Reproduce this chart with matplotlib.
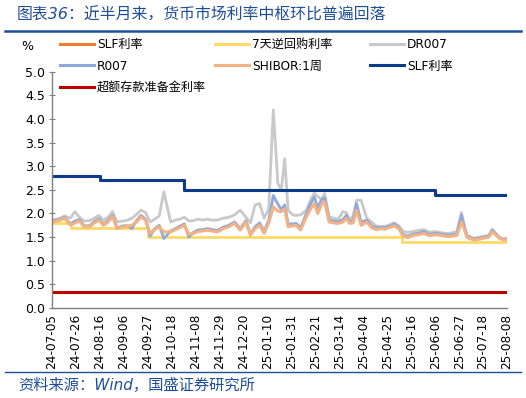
import numpy as np
import pandas as pd
import matplotlib
matplotlib.use("Agg")
from matplotlib import pyplot as plt
import matplotlib.dates as mdates
from matplotlib.lines import Line2D

plt.rcParams['font.family'] = ['DejaVu Sans', 'Noto Sans CJK SC']

# dates partagées par DR007 / R007 / SHIBOR 1W
dates = ['2024-07-05', '2024-07-09', '2024-07-12', '2024-07-16', '2024-07-21', '2024-07-25',
         '2024-07-29', '2024-08-02', '2024-08-07', '2024-08-11', '2024-08-15', '2024-08-19',
         '2024-08-23', '2024-08-27', '2024-08-31', '2024-09-05', '2024-09-09', '2024-09-13',
         '2024-09-17', '2024-09-21', '2024-09-25', '2024-09-29', '2024-10-03', '2024-10-07',
         '2024-10-11', '2024-10-17', '2024-10-21', '2024-10-25', '2024-10-29', '2024-11-02',
         '2024-11-06', '2024-11-10', '2024-11-14', '2024-11-18', '2024-11-22', '2024-11-27',
         '2024-12-02', '2024-12-07', '2024-12-12', '2024-12-17', '2024-12-22', '2024-12-26',
         '2024-12-30', '2025-01-03', '2025-01-07', '2025-01-11', '2025-01-15', '2025-01-19',
         '2025-01-22', '2025-01-25', '2025-01-28', '2025-02-01', '2025-02-04', '2025-02-08',
         '2025-02-13', '2025-02-17', '2025-02-20', '2025-02-23', '2025-02-26', '2025-03-01',
         '2025-03-05', '2025-03-09', '2025-03-13', '2025-03-17', '2025-03-20', '2025-03-23',
         '2025-03-26', '2025-03-29', '2025-04-02', '2025-04-07', '2025-04-11', '2025-04-15',
         '2025-04-19', '2025-04-23', '2025-04-27', '2025-05-01', '2025-05-05', '2025-05-09',
         '2025-05-13', '2025-05-18', '2025-05-22', '2025-05-27', '2025-06-01', '2025-06-06',
         '2025-06-10', '2025-06-15', '2025-06-19', '2025-06-25', '2025-06-29', '2025-07-01',
         '2025-07-04', '2025-07-10', '2025-07-15', '2025-07-19', '2025-07-23', '2025-07-26',
         '2025-07-29', '2025-08-01', '2025-08-05', '2025-08-08']

dr007 = [1.86, 1.88, 1.90, 1.95, 1.90, 2.04, 1.92, 1.84, 1.85, 1.90, 1.96, 1.86,
         1.92, 2.04, 1.82, 1.84, 1.86, 1.90, 1.98, 2.07, 2.02, 1.82, 1.88, 1.95,
         2.46, 1.82, 1.86, 1.88, 1.92, 1.84, 1.85, 1.88, 1.86, 1.88, 1.86, 1.86,
         1.90, 1.92, 1.97, 2.07, 1.92, 1.80, 2.18, 2.21, 1.90, 2.10, 4.19, 2.64,
         2.49, 3.16, 2.07, 1.97, 1.96, 1.97, 2.07, 2.30, 2.43, 2.36, 2.30, 2.42,
         1.93, 1.90, 1.88, 2.04, 2.02, 1.86, 1.95, 2.28, 2.28, 1.90, 1.82, 1.74,
         1.72, 1.73, 1.76, 1.80, 1.74, 1.62, 1.60, 1.62, 1.64, 1.66, 1.60, 1.62,
         1.60, 1.58, 1.58, 1.62, 2.02, 1.80, 1.54, 1.48, 1.50, 1.52, 1.54, 1.67,
         1.58, 1.50, 1.46, 1.48]

r007 = [1.84, 1.86, 1.88, 1.92, 1.78, 1.84, 1.87, 1.74, 1.74, 1.83, 1.89, 1.77,
        1.85, 1.96, 1.69, 1.74, 1.74, 1.68, 1.85, 1.96, 1.88, 1.52, 1.68, 1.75,
        1.47, 1.63, 1.68, 1.73, 1.78, 1.50, 1.60, 1.65, 1.66, 1.68, 1.66, 1.64,
        1.71, 1.75, 1.82, 1.68, 1.85, 1.56, 1.72, 1.80, 1.62, 1.86, 2.38, 2.20,
        2.08, 2.18, 1.78, 1.78, 1.79, 1.70, 2.00, 2.22, 2.35, 2.12, 2.28, 2.33,
        1.86, 1.84, 1.83, 1.87, 1.96, 1.83, 1.85, 2.21, 1.82, 1.86, 1.74, 1.70,
        1.71, 1.70, 1.73, 1.78, 1.71, 1.55, 1.52, 1.57, 1.58, 1.62, 1.56, 1.58,
        1.57, 1.55, 1.54, 1.57, 1.97, 1.76, 1.51, 1.46, 1.48, 1.50, 1.52, 1.64,
        1.57, 1.49, 1.45, 1.46]

shibor1w = [1.82, 1.84, 1.86, 1.90, 1.76, 1.80, 1.84, 1.72, 1.72, 1.80, 1.86, 1.75,
            1.82, 1.93, 1.68, 1.72, 1.73, 1.75, 1.82, 1.93, 1.86, 1.58, 1.66, 1.72,
            1.61, 1.61, 1.66, 1.70, 1.75, 1.56, 1.58, 1.62, 1.63, 1.65, 1.63, 1.61,
            1.68, 1.72, 1.79, 1.65, 1.82, 1.54, 1.68, 1.75, 1.58, 1.80, 2.14, 2.05,
            2.04, 2.10, 1.72, 1.74, 1.75, 1.65, 1.93, 2.11, 2.21, 2.00, 2.18, 2.25,
            1.82, 1.80, 1.79, 1.82, 1.90, 1.79, 1.80, 2.07, 1.75, 1.82, 1.70, 1.66,
            1.68, 1.67, 1.70, 1.74, 1.68, 1.52, 1.49, 1.54, 1.55, 1.58, 1.53, 1.55,
            1.54, 1.52, 1.51, 1.54, 1.82, 1.70, 1.49, 1.44, 1.46, 1.48, 1.50, 1.61,
            1.55, 1.48, 1.44, 1.45]

# taux administrés (en escalier)
slf_dates = ['2024-07-05', '2024-08-16', '2024-10-29', '2025-06-06', '2025-08-08']
slf = [2.8, 2.7, 2.5, 2.4, 2.4]
omo_dates = ['2024-07-05', '2024-07-22', '2024-09-27', '2025-05-08', '2025-08-08']
omo = [1.8, 1.7, 1.5, 1.4, 1.4]
excess_dates = ['2024-07-05', '2025-08-08']
excess = [0.35, 0.35]

tick_labels = ['24-07-05', '24-07-26', '24-08-16', '24-09-06', '24-09-27', '24-10-18',
               '24-11-08', '24-11-29', '24-12-20', '25-01-10', '25-01-31', '25-02-21',
               '25-03-14', '25-04-04', '25-04-25', '25-05-16', '25-06-06', '25-06-27',
               '25-07-18', '25-08-08']

d = pd.to_datetime(dates)
d_slf = pd.to_datetime(slf_dates)
d_omo = pd.to_datetime(omo_dates)
d_exc = pd.to_datetime(excess_dates)
ticks = pd.to_datetime(tick_labels, format='%y-%m-%d')

c_slf_o = '#ED7D31'
c_omo = '#FFD966'
c_dr = '#C9C9C9'
c_r = '#8EA9DB'
c_sh = '#F4B183'
c_slf_b = '#0B3C8C'
c_exc = '#C00000'
c_title = '#1F4E99'

fig = plt.figure(figsize=(5.26, 3.98), dpi=100)
ax = fig.add_axes([0.099, 0.226, 0.865, 0.594])

ax.plot(d_exc, excess, color=c_exc, lw=2.2)
ax.plot(d_omo, omo, color=c_omo, lw=2.0, drawstyle='steps-post')
ax.plot(d, dr007, color=c_dr, lw=2.0)
ax.plot(d, r007, color=c_r, lw=2.0)
ax.plot(d, shibor1w, color=c_sh, lw=2.2)
ax.plot(d_slf, slf, color=c_slf_o, lw=2.2, drawstyle='steps-post')
ax.plot(d_slf, slf, color=c_slf_b, lw=2.2, drawstyle='steps-post')

ax.set_ylim(0, 5)
ax.set_yticks(np.arange(0, 5.01, 0.5))
ax.yaxis.set_major_formatter(matplotlib.ticker.FormatStrFormatter('%.1f'))
ax.set_xlim(ticks[0], ticks[-1])
ax.set_xticks(ticks)
ax.set_xticklabels(tick_labels, rotation=90, fontsize=8.7)
ax.tick_params(axis='y', labelsize=9, direction='inout', length=4, color='#808080', pad=3)
ax.tick_params(axis='x', length=0, pad=4)
for s in ['top', 'right']:
    ax.spines[s].set_visible(False)
for s in ['left', 'bottom']:
    ax.spines[s].set_color('#808080')
    ax.spines[s].set_linewidth(1.0)

# légende en trois colonnes
cols = [
    ([c_slf_o, c_r, c_exc], ['SLF利率', 'R007', '超额存款准备金利率'], 60),
    ([c_omo, c_sh], ['7天逆回购利率', 'SHIBOR:1周'], 215),
    ([c_dr, c_slf_b], ['DR007', 'SLF利率'], 370),
]
for colors, labels, x0 in cols:
    handles = [Line2D([], [], color=c, lw=2.2) for c in colors]
    fig.legend(handles, labels, loc='upper left', bbox_to_anchor=(x0 / 526, 1 - 38 / 398),
               frameon=False, fontsize=8.7, handlelength=2.8, handletextpad=0.25,
               labelspacing=0.72, borderpad=0, borderaxespad=0)

fig.text(27 / 526, 1 - 47 / 398, '%', fontsize=9, ha='center', va='center')

fig.text(17 / 526, 1 - 15 / 398, '图表36：近半月来，货币市场利率中枢环比普遍回落',
         fontsize=11.4, color=c_title, ha='left', va='center', style='italic')
fig.add_artist(Line2D([5 / 526, 521 / 526], [1 - 31 / 398, 1 - 31 / 398], color=c_title, lw=1.8))
fig.add_artist(Line2D([5 / 526, 521 / 526], [1 - 372 / 398, 1 - 372 / 398], color=c_title, lw=1.0))
fig.text(18 / 526, 1 - 385 / 398, '资料来源：Wind，国盛证券研究所',
         fontsize=11, color=c_title, ha='left', va='center', style='italic')

fig.savefig('out.png', dpi=100)
